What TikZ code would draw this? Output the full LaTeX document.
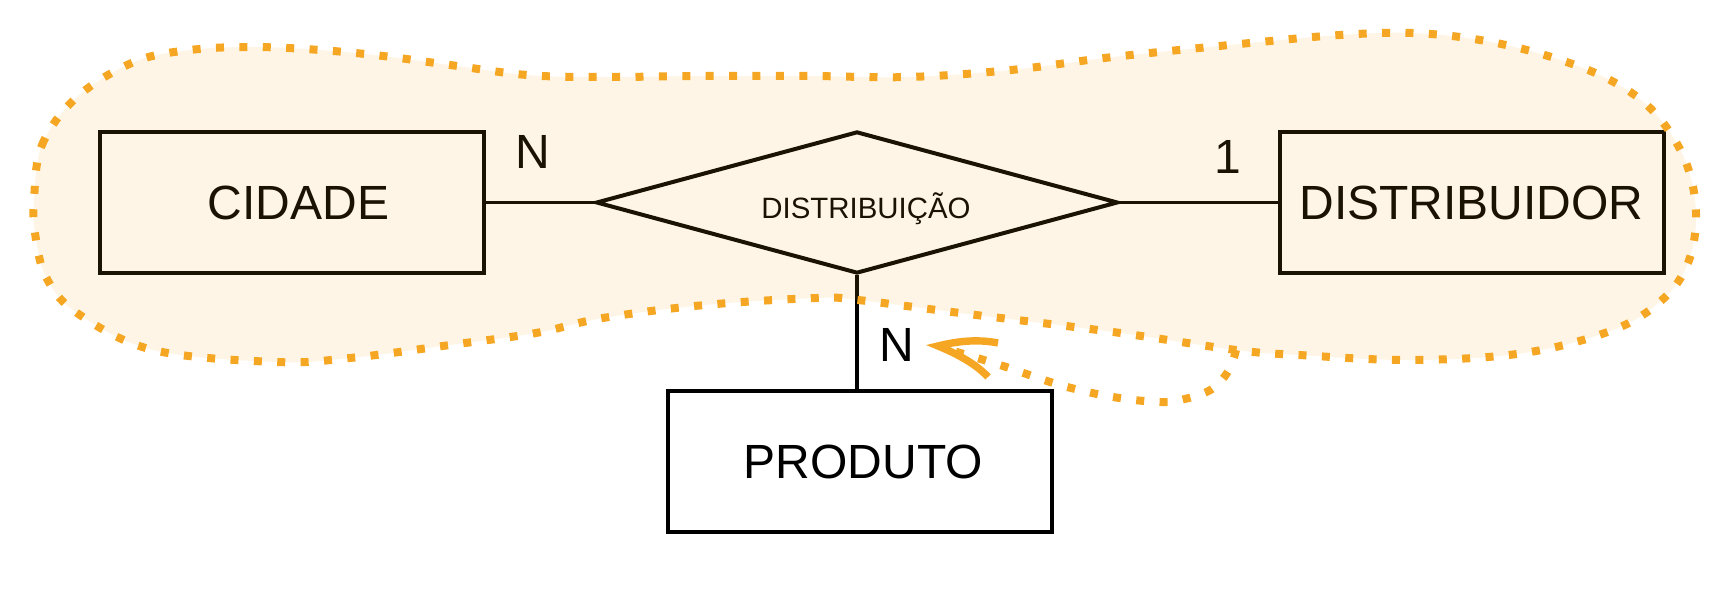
\documentclass[tikz,border=0pt]{standalone}
\usepackage{fontspec}
\setmainfont{Liberation Sans}
\usetikzlibrary{shapes.geometric}
\definecolor{blobor}{HTML}{F5A623}
\begin{document}
\begin{tikzpicture}[x=0.5pt,y=-0.5pt,
  entity/.style={draw=black, line width=2pt, minimum width=192pt, minimum height=70.5pt, inner sep=0pt, font=\fontsize{24}{28}\selectfont},
  relation/.style={draw=black, line width=2pt, shape=diamond, aspect=3.67, minimum width=261pt, minimum height=71pt, inner sep=0pt, font=\fontsize{14.7}{17}\selectfont},
  link/.style={line width=1.8pt, draw=black},
  card/.style={font=\fontsize{24}{28}\selectfont, inner sep=0pt},
  blobline/.style={draw=blobor, line width=4pt, dash pattern=on 4pt off 7.7pt},
  wing/.style={draw=blobor, line width=3.7pt}
]
\useasboundingbox (0,0) rectangle (1736,592);
% entities and relationship
\node[entity] (cid) at (291.5,202.5) {\hspace*{7pt}CIDADE};
\node[entity] (dist) at (1471.5,202.5) {DISTRIBUIDOR};
\node[entity] (prod) at (860,462) {\hspace*{3.5pt}PRODUTO};
\node[relation] (rel) at (857,202.5) {\hspace*{9pt}\raisebox{-3pt}[\height][\depth]{DISTRIBUIÇÃO}};
% connectors
\draw[link] (cid.east) -- (rel.west);
\draw[link] (rel.east) -- (dist.west);
\draw[link] (rel.south) -- (rel.south |- prod.north);
% cardinalities
\node[card] (n1) at (533,152) {N};
\node[card] (one) at (1228,157) {1};
\node[card] (n2) at (897,345) {N};
% aggregation blob
\path[fill=blobor, fill opacity=0.11, blobline] plot[smooth cycle, tension=0.6] coordinates {
  (34,200) (42,145) (77,97) (134,62) (190,50) (253,47) (320,50) (383,56)
  (450,65) (527,75) (600,77) (705,76) (809,76) (909,77) (1011,70) (1113,57)
  (1250,43) (1340,35) (1412,33) (1480,40) (1548,56) (1610,80) (1654,112)
  (1685,160) (1696,213) (1688,263) (1662,300) (1613,330) (1524,353) (1412,360)
  (1299,355) (1236,350) (1113,332) (960,313) (858,300) (817,298) (705,305)
  (603,318) (536,333) (450,345) (350,358) (276,362) (153,350) (77,313)
  (46,277) (35,233)};
% tail with arrow
\draw[blobline] plot[smooth, tension=0.6] coordinates {
  (1236,350) (1229,370) (1212,389) (1185,399) (1160,402) (1113,397)
  (1060,385) (1000,365) (950,350)};
\draw[wing] (998,343) .. controls (978,339) and (958,341) .. (938,346)
  .. controls (955,353) and (975,363) .. (988,377);
\end{tikzpicture}
\end{document}
